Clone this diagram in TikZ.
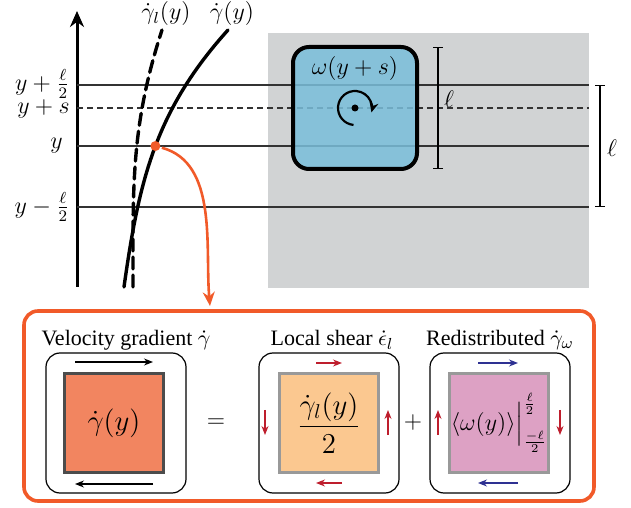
\documentclass[tikz,border=0pt]{standalone}
\usepackage[no-math]{fontspec}
\setmainfont{Liberation Serif}
\usepackage{amsmath}
\usetikzlibrary{arrows.meta, positioning}

\definecolor{shadegray}{RGB}{209,211,212}
\definecolor{cellblue}{RGB}{122,190,218}
\definecolor{accent}{RGB}{241,90,41}
\definecolor{gradfill}{RGB}{242,133,96}
\definecolor{shearfill}{RGB}{251,200,144}
\definecolor{redistfill}{RGB}{221,161,196}
\definecolor{shearred}{RGB}{190,30,45}
\definecolor{shearblue}{RGB}{46,49,146}

\begin{document}
\begin{tikzpicture}[x=0.5pt, y=0.5pt,
    level/.style={line width=0.6pt, black!80},
    curve/.style={line width=1.7pt, line cap=round},
    cell/.style={draw, rounded corners=7pt, line width=0.6pt, minimum width=70pt, minimum height=70pt},
    tile/.style={draw, line width=1.5pt, minimum size=49.5pt, inner sep=0pt},
    tick/.style={{Bar[width=5pt]}-{Bar[width=5pt]}, line width=0.7pt},
    shear/.style={-{Stealth[length=4.5pt, width=3.5pt]}, line width=0.6pt},
    title/.style={font=\fontsize{11}{13}\selectfont},
    lab/.style={font=\fontsize{12}{14}\selectfont, inner sep=0pt}
]
\useasboundingbox (0,0) rectangle (631,508);

% Shaded region behind the rotating cell
\fill[shadegray] (268,220) rectangle (589,475);

% Vertical axis
\coordinate (ax0) at (77,221);
\coordinate (ax1) at (77,497);
\draw[line width=1.5pt, -{Stealth[length=8pt, width=7pt]}] (ax0) -- (ax1);

% Level lines
\draw[level] (77,423) -- (589,423);
\draw[level, dash pattern=on 3pt off 2pt] (77,400) -- (589,400);
\draw[level] (77,362) -- (589,362);
\draw[level] (77,301) -- (589,301);

% Level labels
\node[lab, anchor=east] (Lp) at (70,424) {$y+\frac{\ell}{2}$};
\node[lab, anchor=east] (Ls) at (70,399) {$y+s$};
\node[lab, anchor=east] (Ly) at (63,362) {$y$};
\node[lab, anchor=east] (Lm) at (70,301) {$y-\frac{\ell}{2}$};

% Shear rate profiles
\coordinate (gl0) at (133,221);
\coordinate (gl1) at (162,478);
\coordinate (g0) at (124,221);
\coordinate (g1) at (228,478);
\draw[curve, dash pattern=on 6pt off 3pt] (gl0) to[out=90, in=252] (gl1);
\draw[curve] (g0) to[out=82, in=228]
    node[pos=0.51, circle, fill=accent, inner sep=0pt, minimum size=5pt] (pt) {} (g1);
\node[lab] (Gl) at (166,494) {$\dot\gamma_l(y)$};
\node[lab] (G) at (232,494) {$\dot\gamma(y)$};

% Rotating cell
\node[draw, line width=2pt, rounded corners=8pt, fill=cellblue, fill opacity=0.85,
    text opacity=1, minimum width=62pt, minimum height=61pt] (cell) at (355,400) {};
\node[lab] (om) at (355,439) {$\omega(y+s)$};
\node[circle, fill, inner sep=0pt, minimum size=3.5pt] (rot) at (355,400) {};
\draw[line width=1.1pt, -{Stealth[length=5pt, width=4.5pt]}]
    ([shift={(265:8.5pt)}]rot.center) arc[start angle=265, end angle=-15, radius=8.5pt];

% Window sizes
\coordinate (w0) at (438,461);
\coordinate (w1) at (438,339);
\draw[tick] (w0) -- (w1);
\node[lab] (wl) at (449,409) {$\ell$};
\coordinate (v0) at (600,423);
\coordinate (v1) at (600,301);
\draw[tick] (v0) -- (v1);
\node[lab] (vl) at (612,360) {$\ell$};

% Decomposition panel
\node[draw=accent, line width=1.8pt, rounded corners=7pt,
    minimum width=285pt, minimum height=95pt] (panel) at (309,102) {};
\coordinate (drop) at (210,202);
\draw[accent, line width=1.3pt, -{Stealth[length=7pt, width=6pt]}] (pt) to[out=-15, in=95, looseness=0.9] (drop);

% Velocity gradient
\node[title] (t1) at (126,168) {Velocity gradient $\dot\gamma$};
\node[cell] (c1) at (116,85) {};
\node[tile, draw=black!70, fill=gradfill] (s1) at (114,85) {\fontsize{14}{16}\selectfont$\dot\gamma(y)$};
\draw[shear] (75,146) -- (153,146);
\draw[shear] (153,24) -- (75,24);
\node[lab] (eq) at (216,85) {$=$};

% Local shear
\node[title] (t2) at (332,168) {Local shear $\dot\epsilon_l$};
\node[cell] (c2) at (329,85) {};
\node[tile, draw=black!40, fill=shearfill] (s2) at (329,85) {\fontsize{14}{16}\selectfont$\dfrac{\dot\gamma_l(y)}{2}$};
\draw[shear, shearred] (316,145) -- (342,145);
\draw[shear, shearred] (342,25) -- (316,25);
\draw[shear, shearred] (265,98) -- (265,73);
\draw[shear, shearred] (388,73) -- (388,98);
\node[lab] (pl) at (413,85) {$+$};

% Redistributed part
\node[title] (t3) at (500,168) {Redistributed $\dot\gamma_\omega$};
\node[cell] (c3) at (500,85) {};
\node[tile, draw=black!40, fill=redistfill] (s3) at (499,85) {\fontsize{13}{15}\selectfont$\langle\omega(y)\rangle\Big|^{\frac{\ell}{2}}_{\frac{-\ell}{2}}$};
\draw[shear, shearblue] (478,145) -- (518,145);
\draw[shear, shearblue] (518,25) -- (478,25);
\draw[shear, shearred] (438,73) -- (438,98);
\draw[shear, shearred] (560,98) -- (560,73);

\end{tikzpicture}
\end{document}
